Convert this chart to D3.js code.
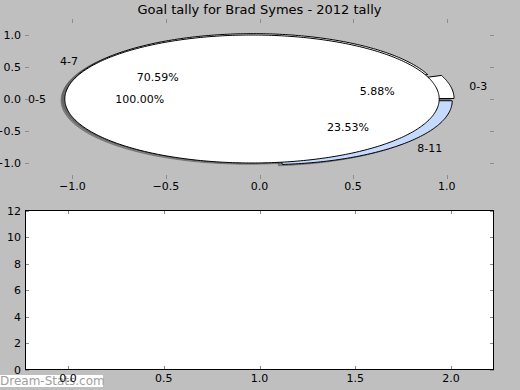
<!DOCTYPE html>
<html><head><meta charset="utf-8">
<script src="https://cdn.jsdelivr.net/npm/d3@7"></script>
<style>html,body{margin:0;padding:0;background:#bfbfbf;}svg{display:block;}text{font-family:"DejaVu Sans",sans-serif;}</style>
</head><body>
<svg id="c" width="520" height="390"></svg>
<script>
// ---- data ----
const titleText = "Goal tally for Brad Symes - 2012 tally";
const outerLabels = ["0-5"];
const outerValues = [1];
const outerColors = ["#ffffff"];
const innerLabels = ["0-3", "4-7", "8-11"];
const innerValues = [1, 12, 4];
const innerColors = ["#ffffff", "#ffffff", "#c6d9fe"];
const explodeAmount = [0.04, 0.04, 0.04];
const pieXTicks = [-1.0, -0.5, 0.0, 0.5, 1.0];
const pieYTicks = [1.0, 0.5, 0.0, -0.5, -1.0];
const barXTicks = [0.0, 0.5, 1.0, 1.5, 2.0];
const barYTicks = [0, 2, 4, 6, 8, 10, 12];
const watermark = "Dream-Stats.com";

const svg = d3.select("#c");
const fmt1 = v => d3.format(".1f")(v).replace("-", "\u2212");

// watermark
svg.append("rect").attr("x", 0).attr("y", 375).attr("width", 103).attr("height", 12).attr("fill", "#fff");
svg.append("text").attr("x", 0).attr("y", 385).attr("font-size", 12).attr("fill", "#a0a0a0").text(watermark);

// title
svg.append("text").attr("x", 259.5).attr("y", 14).attr("text-anchor", "middle")
  .attr("font-size", 13).attr("fill", "#000").text(titleText);

// ---- top (pie) axes ----
const L = 25.5, R = 493.5;
const px = d3.scaleLinear().domain([-1.25, 1.25]).range([L, R]);
const py = d3.scaleLinear().domain([-1.25, 1.25]).range([179, 19]);
const line = d3.line().x(d => px(d[0])).y(d => py(d[1]));
const tickCol = "#8c8c8c";

function wedge(cx, cy, a0, a1) {
  const full = Math.abs(a1 - a0 - 2 * Math.PI) < 1e-9;
  const n = Math.max(4, Math.ceil((a1 - a0) / (2 * Math.PI) * 360));
  const pts = [];
  if (!full) pts.push([cx, cy]);
  for (let i = 0; i <= n; i++) {
    const a = a0 + (a1 - a0) * i / n;
    pts.push([cx + Math.cos(a), cy + Math.sin(a)]);
  }
  return line(pts) + "Z";
}
function layout(values, explode) {
  const tot = d3.sum(values);
  let acc = 0;
  return values.map((v, i) => {
    const a0 = acc / tot * 2 * Math.PI; acc += v;
    const a1 = acc / tot * 2 * Math.PI;
    const mid = (a0 + a1) / 2, e = explode[i];
    return { a0, a1, mid, cx: e * Math.cos(mid), cy: e * Math.sin(mid), frac: v / tot };
  });
}
const inner = layout(innerValues, explodeAmount);
const outer = layout(outerValues, explodeAmount);

const gShadow = svg.append("g"), gWedge = svg.append("g"), gText = svg.append("g");
function drawPie(lay, colors, labels) {
  lay.forEach((s, i) => {
    gShadow.append("path").attr("d", wedge(s.cx - 0.02, s.cy - 0.02, s.a0, s.a1))
      .attr("fill", "rgba(77,77,77,0.5)").attr("stroke", "rgba(77,77,77,0.5)").attr("stroke-width", 1);
    gWedge.append("path").attr("d", wedge(s.cx, s.cy, s.a0, s.a1))
      .attr("fill", colors[i]).attr("stroke", "#000").attr("stroke-width", 1).attr("stroke-linejoin", "round");
    const lx = s.cx + 1.1 * Math.cos(s.mid), ly = s.cy + 1.1 * Math.sin(s.mid);
    gText.append("text").attr("x", px(lx)).attr("y", py(ly) + 4)
      .attr("text-anchor", lx > 0 ? "start" : "end").attr("font-size", 11).text(labels[i]);
    const tx = s.cx + 0.6 * Math.cos(s.mid), ty = s.cy + 0.6 * Math.sin(s.mid);
    gText.append("text").attr("x", px(tx)).attr("y", py(ty) + 4)
      .attr("text-anchor", "middle").attr("font-size", 11).text(d3.format(".2f")(s.frac * 100) + "%");
  });
}
drawPie(inner, innerColors, innerLabels);
drawPie(outer, outerColors, outerLabels);

// pie axes ticks (no frame)
const gT = svg.append("g");
pieXTicks.forEach(t => {
  const x = Math.round(px(t)) + 0.5;
  gT.append("line").attr("x1", x).attr("x2", x).attr("y1", 19).attr("y2", 23).attr("stroke", tickCol);
  gT.append("line").attr("x1", x).attr("x2", x).attr("y1", 175).attr("y2", 179).attr("stroke", tickCol);
  gT.append("text").attr("x", px(t)).attr("y", 190).attr("text-anchor", "middle").attr("font-size", 11).text(fmt1(t));
});
pieYTicks.forEach(t => {
  const y = Math.round(py(t)) + 0.5;
  gT.append("line").attr("x1", 25).attr("x2", 29).attr("y1", y).attr("y2", y).attr("stroke", tickCol);
  gT.append("line").attr("x1", 490).attr("x2", 494).attr("y1", y).attr("y2", y).attr("stroke", tickCol);
  gT.append("text").attr("x", 21).attr("y", py(t) + 4).attr("text-anchor", "end").attr("font-size", 11).text(fmt1(t));
});

// ---- bottom axes ----
const bx = d3.scaleLinear().domain([-0.2222, 2.2222]).range([L, R]);
const by = d3.scaleLinear().domain([0, 12]).range([369.5, 210.5]);
svg.append("rect").attr("x", L).attr("y", 210.5).attr("width", R - L).attr("height", 159)
  .attr("fill", "#fff").attr("stroke", "none");
const gB = svg.append("g");
barXTicks.forEach(t => {
  const x = Math.round(bx(t)) + 0.5;
  gB.append("line").attr("x1", x).attr("x2", x).attr("y1", 210).attr("y2", 214).attr("stroke", tickCol);
  gB.append("line").attr("x1", x).attr("x2", x).attr("y1", 366).attr("y2", 370).attr("stroke", tickCol);
  gB.append("text").attr("x", bx(t)).attr("y", 382).attr("text-anchor", "middle").attr("font-size", 11).text(fmt1(t));
});
barYTicks.forEach(t => {
  const y = Math.round(by(t)) + 0.5;
  gB.append("line").attr("x1", 25).attr("x2", 29).attr("y1", y).attr("y2", y).attr("stroke", tickCol);
  gB.append("line").attr("x1", 490).attr("x2", 494).attr("y1", y).attr("y2", y).attr("stroke", tickCol);
  gB.append("text").attr("x", 21).attr("y", by(t) + 4).attr("text-anchor", "end").attr("font-size", 11).text(String(t));
});
svg.append("rect").attr("x", L).attr("y", 210.5).attr("width", R - L).attr("height", 159)
  .attr("fill", "none").attr("stroke", "#000").attr("stroke-width", 1);
</script>
</body></html>
